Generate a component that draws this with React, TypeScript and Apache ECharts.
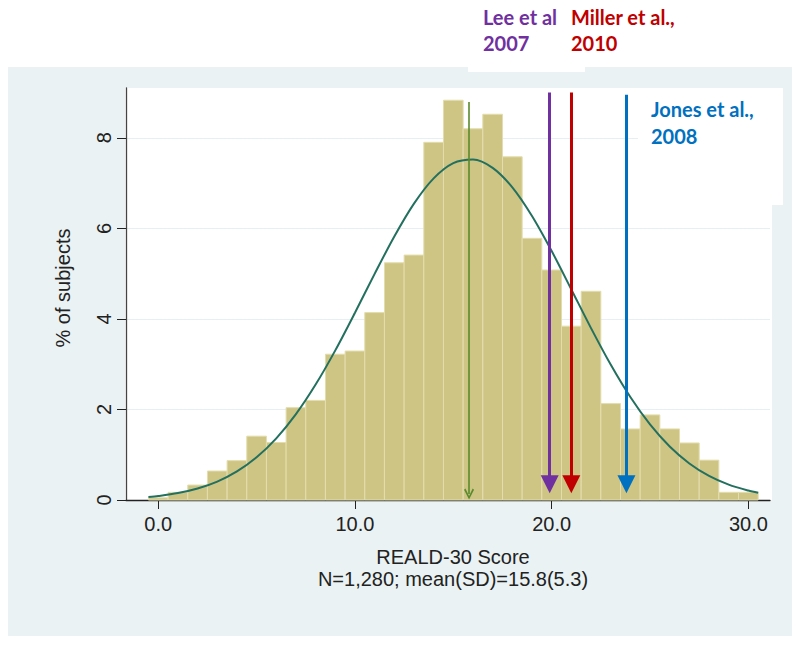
import React, { useEffect, useRef } from "react";
import * as echarts from "echarts";

// Histogram bins (REALD-30 score, one bin per integer score)
const binCenters = [0, 1, 2, 3, 4, 5, 6, 7, 8, 9, 10, 11, 12, 13, 14, 15, 16, 17, 18, 19, 20, 21, 22, 23, 24, 25, 26, 27, 28, 29, 30];
const percentSubjects = [0.05, 0.17, 0.33, 0.64, 0.87, 1.41, 1.27, 2.04, 2.2, 3.22, 3.29, 4.14, 5.24, 5.41, 7.9, 8.83, 8.2, 8.52, 7.58, 5.78, 5.08, 3.84, 4.61, 2.13, 1.57, 1.88, 1.57, 1.26, 0.88, 0.17, 0.17];
const binWidth = 1;

// Normal density overlay (mean 15.8, SD 5.3)
const curveX = [-0.5, 0, 1, 2, 3, 4, 5, 6, 7, 8, 9, 10, 11, 12, 13, 14, 15, 16, 17, 18, 19, 20, 21, 22, 23, 24, 25, 26, 27, 28, 29, 30, 30.5];
const curveY = [0.066, 0.088, 0.153, 0.254, 0.407, 0.631, 0.944, 1.362, 1.897, 2.549, 3.305, 4.136, 4.995, 5.821, 6.547, 7.105, 7.442, 7.522, 7.337, 6.906, 6.273, 5.499, 4.651, 3.797, 2.992, 2.274, 1.668, 1.181, 0.807, 0.532, 0.339, 0.208, 0.161];

// Reference arrows
const studyNames = ["Lee et al\n2007", "Miller et al.,\n2010", "Jones et al.,\n2008"];
const studyScores = [19.9, 21.0, 23.8];
const studyTops = [9.0, 9.0, 8.95];
const studyColors = ["#7030a0", "#c00000", "#0070c0"];
const meanScore = 15.8;
const meanTop = 8.79;

const xTickValues = [0, 10, 20, 30];
const yTickValues = [0, 2, 4, 6, 8];

export default function App() {
  const ref = useRef<HTMLDivElement>(null);

  useEffect(() => {
    if (!ref.current) return;
    const chart = echarts.init(ref.current, null, { renderer: "svg" });

    const arrowSeries = studyScores.map((s, i) => ({
      type: "line",
      data: [],
      silent: true,
      markLine: {
        silent: true,
        animation: false,
        symbol: ["none", "triangle"],
        symbolSize: 18,
        label: { show: false },
        lineStyle: { color: studyColors[i], width: 3, type: "solid" },
        data: [[{ coord: [s, studyTops[i]] }, { coord: [s, 0.35] }]],
      },
      z: 4,
    }));

    const meanSeries = {
      type: "line",
      data: [],
      silent: true,
      markLine: {
        silent: true,
        animation: false,
        symbol: ["none", "path://M5,0L10,9L8.6,10L5,3.2L1.4,10L0,9Z"],
        symbolSize: [10, 11],
        label: { show: false },
        lineStyle: { color: "#5a8a2e", width: 1.6, type: "solid" },
        data: [[{ coord: [meanScore, meanTop] }, { coord: [meanScore, 0.13] }]],
      },
      z: 4,
    };

    const labelTexts: any[] = [];
    const labelPos = [
      [483, 16.5, 42.5],
      [571, 16.5, 42.5],
      [651, 109, 135.5],
    ];
    studyNames.forEach((n, i) => {
      const lines = n.split("\n");
      lines.forEach((t, j) => {
        labelTexts.push({
          type: "text",
          x: labelPos[i][0],
          y: labelPos[i][1 + j],
          z: 10,
          style: {
            text: t,
            fill: studyColors[i],
            fontFamily: "Lato, 'Open Sans', sans-serif",
            fontWeight: "bold",
            fontSize: 20,
            verticalAlign: "middle",
            align: "left",
          },
        });
      });
    });

    chart.setOption({
      animation: false,
      backgroundColor: "#ffffff",
      textStyle: { fontFamily: "'Liberation Sans', Arial, sans-serif" },
      grid: { left: 126, right: 30, top: 88, bottom: 146, containLabel: false },
      graphic: [
        { type: "rect", z: -10, shape: { x: 8, y: 67, width: 784, height: 569 }, style: { fill: "#eaf2f3" } },
        { type: "rect", z: -9, shape: { x: 125, y: 88, width: 647, height: 412 }, style: { fill: "#ffffff" } },
        { type: "rect", z: -8, shape: { x: 468, y: 0, width: 117, height: 72 }, style: { fill: "#ffffff" } },
        { type: "rect", z: 1, shape: { x: 638, y: 88, width: 145, height: 117 }, style: { fill: "#ffffff" } },
        {
          type: "text",
          x: 63,
          y: 288,
          rotation: Math.PI / 2,
          z: 10,
          style: {
            text: "% of subjects",
            fill: "#222",
            fontFamily: "'Liberation Sans', Arial, sans-serif",
            fontSize: 20,
            align: "center",
            verticalAlign: "middle",
          },
        },
        ...labelTexts,
      ],
      xAxis: {
        type: "value",
        min: -1.64,
        max: 31.1,
        name: "REALD-30 Score\nN=1,280; mean(SD)=15.8(5.3)",
        nameLocation: "middle",
        nameGap: 46,
        nameTextStyle: { fontSize: 20, lineHeight: 22, color: "#222", padding: [0, 0, 0, 10] },
        axisLine: { show: true, onZero: false, lineStyle: { color: "#222", width: 1.3 } },
        axisTick: { show: true, length: 9, customValues: xTickValues, lineStyle: { color: "#222" } },
        axisLabel: {
          customValues: xTickValues,
          formatter: (v: number) => v.toFixed(1),
          fontSize: 20,
          color: "#222",
          margin: 14,
        },
        splitLine: { show: false },
      },
      yAxis: {
        type: "value",
        min: 0,
        max: 9.1,
        axisLine: { show: true, onZero: false, lineStyle: { color: "#444", width: 1.3 } },
        axisTick: { show: true, length: 9, customValues: yTickValues, lineStyle: { color: "#222" } },
        axisLabel: {
          customValues: yTickValues,
          rotate: 90,
          fontSize: 20,
          color: "#222",
          margin: 12,
        },
        splitLine: { show: true, lineStyle: { color: "#e6eff2", width: 1 } },
      },
      series: [
        {
          type: "custom",
          name: "% of subjects",
          data: binCenters.map((c, i) => [c, percentSubjects[i]]),
          encode: { x: 0, y: 1 },
          z: 2,
          renderItem: (params: any, api: any) => {
            const c = api.value(0);
            const v = api.value(1);
            const p0 = api.coord([c - binWidth / 2, v]);
            const p1 = api.coord([c + binWidth / 2, 0]);
            return {
              type: "rect",
              shape: { x: p0[0], y: p0[1], width: p1[0] - p0[0], height: p1[1] - p0[1] },
              style: { fill: "#cec584", stroke: "#e3ddae", lineWidth: 1 },
            };
          },
        },
        {
          type: "line",
          name: "Normal density",
          data: curveX.map((x, i) => [x, curveY[i]]),
          smooth: 0.3,
          showSymbol: false,
          symbol: "none",
          lineStyle: { color: "#23705f", width: 2 },
          z: 3,
        },
        meanSeries,
        ...arrowSeries,
      ],
    });

    return () => chart.dispose();
  }, []);

  return <div ref={ref} style={{ position: "absolute", left: 0, top: 0, width: 800, height: 646 }} />;
}
